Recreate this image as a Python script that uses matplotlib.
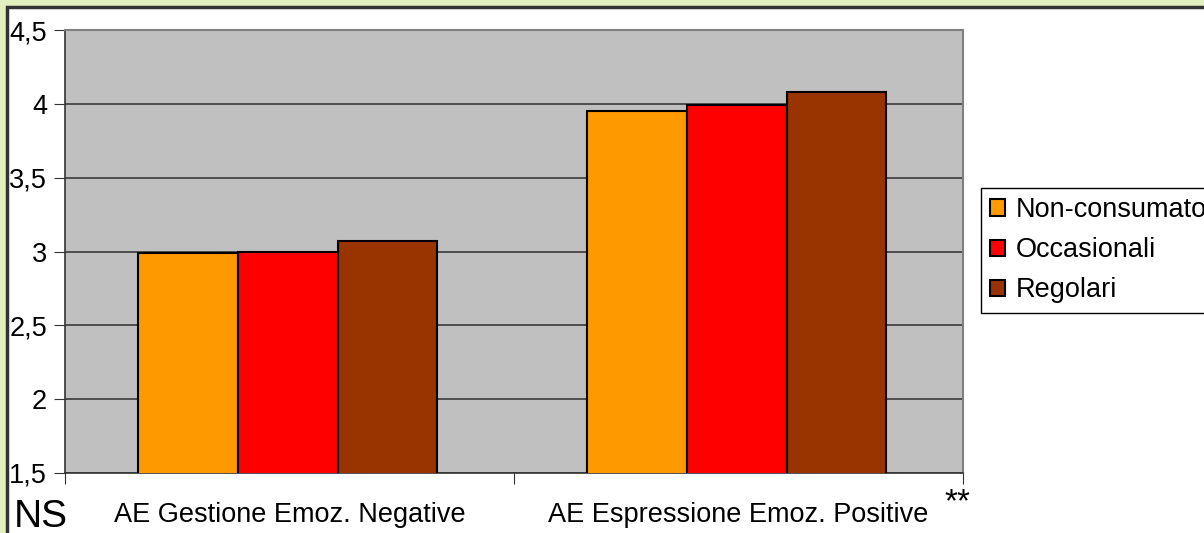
import matplotlib
matplotlib.use("Agg")
import matplotlib.pyplot as plt
from matplotlib.patches import Rectangle
import numpy as np

categories = ["AE Gestione Emoz. Negative", "AE Espressione Emoz. Positive"]
series_names = ["Non-consumatori", "Occasionali", "Regolari"]
non_consumatori = [2.99, 3.95]
occasionali = [3.00, 3.99]
regolari = [3.07, 4.08]
series_values = [non_consumatori, occasionali, regolari]
colors = ["#FF9900", "#FF0000", "#993300"]
yticks = [1.5, 2, 2.5, 3, 3.5, 4, 4.5]
ytick_labels = ["1,5", "2", "2,5", "3", "3,5", "4", "4,5"]

plt.rcParams['font.family'] = ['Liberation Sans', 'DejaVu Sans']

W, H = 1204, 533
fig = plt.figure(figsize=(W/100, H/100), dpi=100)
fig.patch.set_facecolor("#E4EFC0")
bg = Rectangle((7/W, -0.1), 1.2, 1 - 7/H + 0.1, transform=fig.transFigure,
               facecolor="white", edgecolor="#333333", linewidth=2.5, zorder=-5)
fig.patches.append(bg)

ax = fig.add_axes([65/W, 1 - 473/H, (963-65)/W, (473-30)/H])
ax.set_zorder(2)
ax.set_facecolor("#C0C0C0")

x = np.arange(len(categories))
bw = 0.2222
for i, (name, vals, c) in enumerate(zip(series_names, series_values, colors)):
    ax.bar(x + (i - 1) * bw - 0.004, vals, width=bw, color=c, edgecolor="black",
           linewidth=1.5, label=name, zorder=3)

ax.set_ylim(1.5, 4.5)
ax.set_xlim(-0.5, len(categories) - 0.5)
ax.set_yticks(yticks)
ax.set_yticklabels(ytick_labels, fontsize=19.5)
ax.yaxis.grid(True, color="#3a3a3a", linewidth=1.2, zorder=1)
ax.set_axisbelow(True)

ax.set_xticks(np.arange(-0.5, len(categories)))
ax.set_xticklabels([])
ax.set_xticks(x, minor=True)
ax.set_xticklabels(categories, minor=True, fontsize=19.5)
ax.tick_params(axis='x', which='minor', length=0, pad=21)
ax.tick_params(axis='x', which='major', length=8, direction='out', color="#333333")
ax.tick_params(axis='y', length=8, direction='out', color="#333333", pad=5)

for s in ['left', 'bottom']:
    ax.spines[s].set_color("#333333")
    ax.spines[s].set_linewidth(1.2)
for s in ['top', 'right']:
    ax.spines[s].set_color("#808080")
    ax.spines[s].set_linewidth(1.5)

leg = ax.legend(loc='upper left', bbox_to_anchor=(981/W, 1 - 188/H), bbox_transform=fig.transFigure,
                fontsize=19.5, frameon=True, fancybox=False, edgecolor="black", framealpha=1,
                handlelength=0.55, handleheight=0.55, handletextpad=0.4, borderaxespad=0,
                labelspacing=0.52, borderpad=0.34)
leg.get_frame().set_linewidth(1.0)

fig.text(14/W, 1 - 517/H, "NS", fontsize=28, va='center', ha='left')
fig.text(944/W, 1 - 503/H, "**", fontsize=24, va='center', ha='left')

fig.savefig("out.png", dpi=100)
